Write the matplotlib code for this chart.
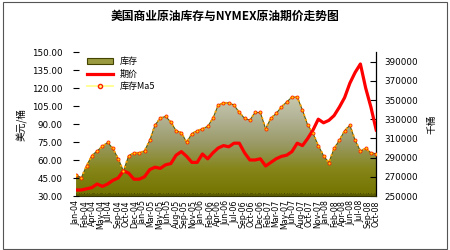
import numpy as np
import matplotlib
matplotlib.use("Agg")
import matplotlib.pyplot as plt
from matplotlib.colors import LinearSegmentedColormap
from matplotlib.patches import Rectangle, Patch
from matplotlib.lines import Line2D

plt.rcParams['font.family'] = ['Noto Sans CJK SC', 'DejaVu Sans']

title = "美国商业原油库存与NYMEX原油期价走势图"

# monthly values, Jan-04 .. Oct-08
inventory = [272000, 269000, 281600, 292000, 297000, 301600, 305800, 299500, 289000, 276000,
             292000, 295000, 295000, 297000, 308000, 324000, 331000, 333000, 327000, 318000,
             316000, 306000, 315000, 318000, 320000, 322600, 331000, 344700, 347000, 347000,
             344700, 337000, 331000, 329000, 337000, 337000, 320000, 331000, 336000, 342700,
             348000, 353000, 353000, 339500, 323700, 315300, 302600, 292000, 284700, 299500,
             308000, 318000, 323700, 308000, 297000, 299500, 295000, 294000]
price = [35, 35, 36, 37, 40, 38, 40, 43, 45, 51,
         49, 44, 44, 46, 52, 54, 53, 56, 57, 64,
         67, 63, 58, 58, 65, 61, 66, 70, 72, 71,
         74, 74, 66, 60, 60, 61, 55, 58, 61, 63,
         64, 67, 74, 72, 78, 85, 94, 91, 93, 97,
         104, 112, 124, 133, 140, 120, 104, 85]
inventory_ma5 = list(inventory)

tick_labels = ["Jan-04", "Feb-04", "Apr-04", "May-04", "Jul-04", "Sep-04", "Oct-04", "Dec-04",
               "Jan-05", "Mar-05", "May-05", "Jun-05", "Aug-05", "Sep-05", "Nov-05",
               "Jan-06", "Feb-06", "Apr-06", "Jun-06", "Jul-06", "Sep-06", "Oct-06", "Dec-06",
               "Feb-07", "Mar-07", "May-07", "Jun-07", "Aug-07", "Oct-07", "Nov-07",
               "Jan-08", "Feb-08", "Apr-08", "Jun-08", "Jul-08", "Sep-08", "Oct-08"]

price_ticks = [30, 45, 60, 75, 90, 105, 120, 135, 150]
inv_ticks = [250000, 270000, 290000, 310000, 330000, 350000, 370000, 390000]

legend_labels = ["库存", "期价", "库存Ma5"]

x = np.arange(len(inventory))

fig = plt.figure(figsize=(4.5, 2.5), dpi=100)
fig.patch.set_facecolor('white')
fig.patches.append(Rectangle((0.006, 0.006), 0.988, 0.988, transform=fig.transFigure,
                             fill=False, edgecolor='#555555', linewidth=0.8))

ax = fig.add_axes([0.169, 0.216, 0.667, 0.576])
ax2 = ax.twinx()

ax.set_xlim(0, len(x) - 1)
ax.set_ylim(250000, 400000)

# gradient filled area for inventory
cmap = LinearSegmentedColormap.from_list('olive', ['#737300', '#858518', '#9a9a68', '#b4b498', '#cfcfb4'])
grad = np.linspace(0, 1, 256).reshape(-1, 1)
img = ax.imshow(grad, extent=[0, len(x) - 1, 250000, 360000], origin='lower', aspect='auto',
                cmap=cmap, zorder=1)
poly = ax.fill_between(x, 250000, inventory, facecolor='none', edgecolor='none', zorder=1)
img.set_clip_path(poly.get_paths()[0], transform=ax.transData)
ax.plot(x, inventory, color='#5a5a10', lw=0.8, zorder=2)
ax.axhline(251200, color='#5c5c00', lw=1.5, zorder=2)

ax.yaxis.tick_right()
ax.yaxis.set_label_position('right')
ax.set_yticks(inv_ticks)
ax.set_yticklabels([str(v) for v in inv_ticks], fontsize=6.3, family='DejaVu Sans')
ax.tick_params(axis='y', which='both', left=False, labelleft=False, right=True, labelright=True,
               direction='in', length=4, pad=6, width=0.8)
ax.set_ylabel("千桶", fontsize=7, labelpad=6)

ax.set_xticks(np.linspace(0, len(x) - 1, len(tick_labels)))
ax.set_xticklabels(tick_labels, rotation=90, fontsize=5.7, family='DejaVu Sans')
ax.set_xticks(np.arange(0, len(x) - 1, 0.5), minor=True)
ax.tick_params(axis='x', which='both', direction='in', length=2, pad=3, width=0.6, color='#333300')

for s in ['top', 'left']:
    ax.spines[s].set_visible(False)
ax.spines['right'].set_linewidth(0.9)
ax.spines['bottom'].set_color('#333300')

ax2.set_ylim(30, 150)
ax2.yaxis.set_label_position('left')
ax2.set_yticks(price_ticks)
ax2.set_yticklabels([f"{v:.2f}" for v in price_ticks], fontsize=6.3, family='DejaVu Sans')
ax2.tick_params(axis='y', which='both', left=True, labelleft=True, right=False, labelright=False,
                direction='inout', length=4, pad=8, width=0.8)
ax2.set_ylabel("美元/桶", fontsize=7, labelpad=3)
for s in ['top', 'left', 'right', 'bottom']:
    ax2.spines[s].set_visible(False)

ax2.plot(x, price, color='#ff0000', lw=2.3, zorder=3)
# MA5 line on the inventory scale, drawn above the price line
ax2.plot(x, inventory_ma5, color='#ffa000', lw=1.4, ls=':', marker='o', markersize=2.2,
         markerfacecolor='#ffd000', markeredgecolor='#ff2000', markeredgewidth=0.6,
         zorder=4, transform=ax.transData)

handles = [Patch(facecolor='#9a9a40', edgecolor='#444400', lw=0.8),
           Line2D([], [], color='#ff0000', lw=2.3),
           Line2D([], [], color='#ffff80', lw=1.2, marker='o', markersize=3,
                  markerfacecolor='#ffff80', markeredgecolor='#ff2000')]
ax2.legend(handles, legend_labels, loc='upper left', bbox_to_anchor=(0.02, 1.0), frameon=False,
           fontsize=6.5, handlelength=2.8, handleheight=0.6, labelspacing=0.35, borderaxespad=0.2)

fig.text(0.5, 0.935, title, ha='center', va='center', fontsize=8.5, fontweight='bold')

fig.savefig("out.png", dpi=100)
